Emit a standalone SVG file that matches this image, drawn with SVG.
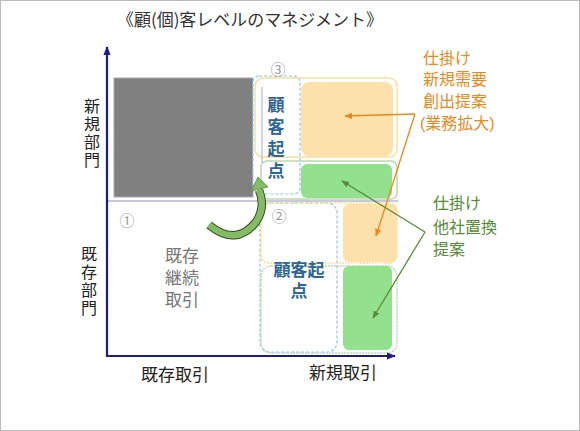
<svg xmlns="http://www.w3.org/2000/svg" width="580" height="431" viewBox="0 0 580 431">
<defs>
<style>
text{font-family:"Noto Sans CJK JP","Noto Sans",sans-serif;}
.ml{font-family:"Liberation Sans","Noto Sans CJK JP",sans-serif;}
.title{font-size:17px;fill:#333;}
.ax{font-size:17px;fill:#222;text-anchor:middle;}
.vax{font-size:16px;fill:#222;writing-mode:vertical-rl;letter-spacing:2px;}
.num{font-size:15px;fill:#999;text-anchor:middle;}
.gray{font-size:17px;fill:#777;text-anchor:middle;}
.blue{font-size:17px;fill:#2d6594;font-weight:bold;text-anchor:middle;}
.vblue{font-size:17px;fill:#2d6594;font-weight:bold;writing-mode:vertical-rl;letter-spacing:5px;}
.org{font-size:16px;fill:#e8891c;}
.grn{font-size:16px;fill:#568a36;}
.axis{stroke:#1b1b8a;stroke-width:2.2;fill:none;}
.bdash{fill:#fff;stroke:#8fc3e3;stroke-width:1.2;stroke-dasharray:3 2;}
.yout{fill:none;stroke:#f3e09a;stroke-width:1.5;}
.gout{fill:none;stroke:#bcd7ae;stroke-width:1.5;}
.ofill{fill:#fde1ab;}
.gfill{fill:#93e08f;}
</style>
<marker id="ah" viewBox="0 0 10 10" refX="9" refY="5" markerUnits="userSpaceOnUse" markerWidth="9" markerHeight="9" orient="auto"><path d="M0 1 L10 5 L0 9 Z" fill="#1b1b8a"/></marker>
<marker id="ao" viewBox="0 0 10 10" refX="9" refY="5" markerWidth="6" markerHeight="6" orient="auto"><path d="M0 1 L10 5 L0 9 Z" fill="#e8891c"/></marker>
<marker id="ag" viewBox="0 0 10 10" refX="9" refY="5" markerWidth="6" markerHeight="6" orient="auto"><path d="M0 1 L10 5 L0 9 Z" fill="#568a36"/></marker>
</defs>
<rect x="0.5" y="0.5" width="579" height="430" fill="#fff" stroke="#bbb"/>
<text class="title" x="117" y="26" textLength="266">《顧(個)客レベルのマネジメント》</text>

<g id="divider"><line x1="107" y1="201" x2="398" y2="201" stroke="#c9c9dd" stroke-width="2"/></g>

<g id="existing-new-block"><rect x="114" y="78" width="139" height="119" fill="#808080" stroke="#a8a8a8"/></g>

<g id="label-new-dept"><text class="vax" x="92" y="98">新規部門</text></g>
<g id="label-existing-dept"><text class="vax" x="89" y="246">既存部門</text></g>
<g id="quadrant1">
<text class="num" x="127" y="226">①</text>
<text class="gray ml" x="182" y="262"><tspan x="182">既存</tspan><tspan x="182" dy="22">継続</tspan><tspan x="182" dy="22">取引</tspan></text>
</g>
<g id="label-existing-trade"><text class="ax" x="175" y="381">既存取引</text></g>
<g id="label-new-trade"><text class="ax" x="343" y="379">新規取引</text></g>

<g id="quadrant3">
<rect class="bdash" x="253" y="76" width="47" height="118" rx="6"/>
<rect class="yout" x="255" y="78" width="142" height="79" rx="8"/>
<rect class="ofill" x="301" y="82" width="92" height="74" rx="8"/>
<rect class="gout" x="261" y="161" width="136" height="38" rx="6"/>
<rect class="gfill" x="301" y="164" width="91" height="34" rx="6"/>
<line x1="262" y1="87" x2="262" y2="163" stroke="#c6c6da" stroke-width="1.5"/>
<text class="num" x="278" y="75">③</text>
<text class="vblue" x="276" y="96">顧客起点</text>
</g>

<g id="quadrant2">
<rect class="bdash" x="260" y="203" width="77" height="149" rx="10"/>
<rect class="yout" x="261" y="203" width="136" height="60" rx="8" stroke-dasharray="2 1"/>
<rect class="gout" x="261" y="266" width="136" height="87" rx="10" stroke-dasharray="2 1"/>
<rect class="ofill" x="343" y="204" width="54" height="58" rx="6"/>
<rect class="gfill" x="343" y="266" width="49" height="84" rx="6"/>
<text class="num" x="279" y="222">②</text>
<text class="blue ml" x="299" y="276"><tspan x="299">顧客起</tspan><tspan x="299" dy="21">点</tspan></text>
</g>

<g id="axes">
<path class="axis" d="M107 357 L107 47" marker-end="url(#ah)"/>
<path class="axis" d="M106 356 L395 356" marker-end="url(#ah)"/>
</g>

<g id="curved-arrow">
<path d="M209 225 Q236 247 256 222 Q266 207 259 190" fill="none" stroke="#2f4f1f" stroke-width="8.5" stroke-linecap="butt"/>
<path d="M209 225 Q236 247 256 222 Q266 207 259 190" fill="none" stroke="#86bb66" stroke-width="6.5" stroke-linecap="butt"/>
<polygon points="251,191 268,187 258,177" fill="#86bb66" stroke="#5b8a43" stroke-width="0.8"/>
</g>

<g id="orange-label">
<text class="org ml" x="423" y="64"><tspan x="423">仕掛け</tspan><tspan x="423" dy="21">新規需要</tspan><tspan x="423" dy="22">創出提案</tspan><tspan x="420" dy="22">(業務拡大)</tspan></text>
</g>
<g id="green-label">
<text class="grn ml" x="433" y="209"><tspan x="433">仕掛け</tspan><tspan x="433" dy="24">他社置換</tspan><tspan x="433" dy="22">提案</tspan></text>
</g>

<g id="connectors">
<line x1="415" y1="114" x2="345" y2="116" stroke="#e8891c" stroke-width="1.3" marker-end="url(#ao)"/>
<line x1="415" y1="114" x2="376" y2="236" stroke="#e8891c" stroke-width="1.3" marker-end="url(#ao)"/>
<line x1="425" y1="232" x2="342" y2="181" stroke="#568a36" stroke-width="1.3" marker-end="url(#ag)"/>
<line x1="425" y1="232" x2="373" y2="318" stroke="#568a36" stroke-width="1.3" marker-end="url(#ag)"/>
</g>
</svg>
